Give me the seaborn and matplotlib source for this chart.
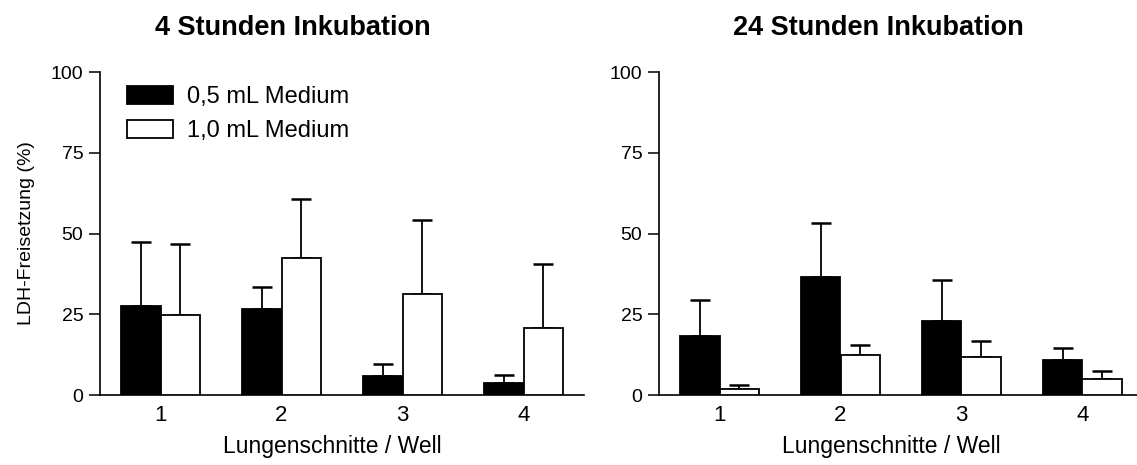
import matplotlib
matplotlib.use("Agg")
import matplotlib.pyplot as plt
import seaborn as sns
import pandas as pd

WELLS = ["1", "2", "3", "4"]
MEDIA = ["0,5 mL Medium", "1,0 mL Medium"]

# mean LDH release (%) and upper error (SD) per well
MEAN_4H_05 = [27.6, 26.7, 5.9, 3.8]
ERR_4H_05 = [19.8, 6.8, 3.7, 2.4]
MEAN_4H_10 = [24.8, 42.4, 31.2, 20.8]
ERR_4H_10 = [21.9, 18.2, 23.0, 19.7]

MEAN_24H_05 = [18.2, 36.6, 22.9, 10.8]
ERR_24H_05 = [11.3, 16.6, 12.6, 3.7]
MEAN_24H_10 = [2.0, 12.3, 11.7, 5.1]
ERR_24H_10 = [1.2, 3.2, 5.0, 2.2]

W, H = 1137, 465


def make_df(m05, e05, m10, e10):
    rows = []
    for medium, means, errs in [(MEDIA[0], m05, e05), (MEDIA[1], m10, e10)]:
        for well, m, e in zip(WELLS, means, errs):
            rows.append({"well": well, "medium": medium, "ldh": m, "err": e})
    return pd.DataFrame(rows)


def plot_panel(ax, df):
    sns.barplot(df, x="well", y="ldh", hue="medium", order=WELLS, hue_order=MEDIA,
                palette=["black", "white"], edgecolor="black", linewidth=1.3,
                width=0.66, errorbar=None, ax=ax, zorder=3)
    for cont, medium in zip(ax.containers, MEDIA):
        sub = df[df["medium"] == medium].set_index("well").loc[WELLS]
        xs = [p.get_x() + p.get_width() / 2 for p in cont]
        ax.errorbar(xs, sub["ldh"], yerr=[[0] * len(WELLS), sub["err"]], fmt="none",
                    ecolor="black", elinewidth=1.3, capsize=7.5, capthick=1.8, zorder=2)
    ax.set_ylim(0, 100)
    ax.set_xlim(-0.5, 3.5)
    ax.set_yticks([0, 25, 50, 75, 100])
    ax.tick_params(axis="y", length=8, width=1.1, pad=4, labelsize=14,
                   color="black", labelcolor="black")
    ax.tick_params(axis="x", length=0, pad=7, labelsize=16, labelcolor="black")
    for s in ["left", "bottom"]:
        ax.spines[s].set_linewidth(1.2)
        ax.spines[s].set_color("black")
    sns.despine(ax=ax)
    ax.set_xlabel("Lungenschnitte / Well", fontsize=16.5, color="black")
    ax.xaxis.set_label_coords(0.48, -0.125)
    ax.xaxis.label.set_va("top")
    ax.set_ylabel("")


sns.set_style("ticks")
plt.rcParams["font.family"] = ["Liberation Sans", "DejaVu Sans"]
plt.rcParams["text.color"] = "black"

fig = plt.figure(figsize=(W / 100, H / 100), dpi=100)
ax1 = fig.add_axes([100 / W, 70 / H, 484 / W, 323 / H])
ax2 = fig.add_axes([659 / W, 70 / H, 484 / W, 323 / H])

plot_panel(ax1, make_df(MEAN_4H_05, ERR_4H_05, MEAN_4H_10, ERR_4H_10))
plot_panel(ax2, make_df(MEAN_24H_05, ERR_24H_05, MEAN_24H_10, ERR_24H_10))

ax1.set_ylabel("LDH-Freisetzung (%)", fontsize=14, color="black")
ax1.yaxis.set_label_coords(-0.135, 0.5)

ax1.legend(frameon=False, loc="upper left", bbox_to_anchor=(0.056, 0.957),
           borderpad=0, borderaxespad=0, fontsize=17, handlelength=1.95,
           handleheight=0.78, handletextpad=0.6, labelspacing=0.5)
ax2.get_legend().remove()

fig.text(293 / W, 1 - 28 / H, "4 Stunden Inkubation", fontsize=19.5, fontweight="bold",
         ha="center", va="center")
fig.text(878 / W, 1 - 28 / H, "24 Stunden Inkubation", fontsize=19.5, fontweight="bold",
         ha="center", va="center")

fig.savefig("out.png", dpi=100)
